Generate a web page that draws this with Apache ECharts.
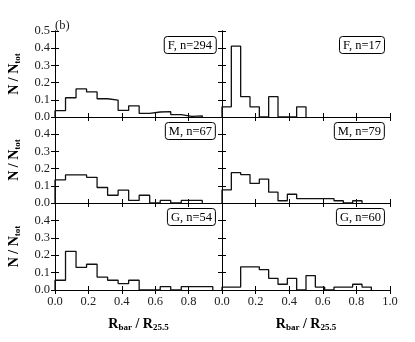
<!DOCTYPE html>
<html>
<head>
<meta charset="utf-8">
<script src="https://cdn.jsdelivr.net/npm/echarts@6/dist/echarts.min.js"></script>
<style>
  html, body { margin: 0; padding: 0; background: #fff; }
  #main { width: 415px; height: 342px; }
</style>
</head>
<body>
<div id="main"></div>
<script>
// bin widths (left column / right column)
const binLeft = 0.063;
const binRight = 1 / 18;

// N / N_tot per bin
const fLeft = [0.037, 0.112, 0.163, 0.146, 0.106, 0.098, 0.038, 0.065, 0.021, 0.029, 0.031, 0.014, 0.004, 0.007];
const fRight = [0.059, 0.412, 0.118, 0.059, 0, 0.118, 0, 0, 0.059];
const mLeft = [0.134, 0.164, 0.164, 0.149, 0.090, 0.045, 0.075, 0.015, 0.045, 0, 0.015, 0, 0.015, 0.015];
const mRight = [0.076, 0.177, 0.165, 0.114, 0.139, 0.063, 0.013, 0.051, 0.025, 0.025, 0.025, 0.025, 0.013, 0, 0.013];
const gLeft = [0.056, 0.222, 0.130, 0.148, 0.074, 0.056, 0.037, 0.056, 0, 0, 0.019, 0, 0.019, 0.019, 0.019];
const gRight = [0.017, 0.017, 0.133, 0.133, 0.117, 0.067, 0.033, 0.067, 0, 0.083, 0.017, 0, 0.017, 0.017, 0.033, 0.017];

const panelLabels = ["F, n=294", "F, n=17", "M, n=67", "M, n=79", "G, n=54", "G, n=60"];
const panelData = [fLeft, fRight, mLeft, mRight, gLeft, gRight];

const serif = "Liberation Serif";
const rowTop = [31, 117, 203];
const rowH = [86, 86, 87];

// outline of a histogram (step line)
const histLine = (vals, w) => {
  const pts = [[0, 0]];
  vals.forEach((v, i) => pts.push([i * w, v]));
  pts.push([vals.length * w, 0]);
  return pts;
};

const nameRich = {
  b: { fontFamily: serif, fontSize: 14, fontWeight: "bold", color: "#000", lineHeight: 16 },
  s: { fontFamily: serif, fontSize: 9, fontWeight: "bold", color: "#000", padding: [7, 0, 0, 0] },
};

const grids = [], xAxes = [], yAxes = [], series = [], titles = [];
const tickStyle = { show: true, inside: true, length: 4, lineStyle: { color: "#000", width: 1 } };
const lineStyle = { show: true, lineStyle: { color: "#000", width: 1 } };

for (let g = 0; g < 6; g++) {
  const row = Math.floor(g / 2);
  const col = g % 2;
  grids.push({
    left: col === 0 ? 55 : 222,
    width: col === 0 ? 167 : 168,
    top: rowTop[row],
    height: rowH[row],
  });
  const bottomRow = row === 2;
  xAxes.push({
    gridIndex: g, type: "value", min: 0, max: 1, interval: 0.2,
    axisLine: lineStyle, axisTick: tickStyle, splitLine: { show: false },
    axisLabel: {
      show: bottomRow, showMaxLabel: col === 1, margin: 5,
      fontFamily: serif, fontSize: 12.5, color: "#222",
      formatter: (v) => v.toFixed(1),
    },
    name: bottomRow ? "{b|R}{s|bar}{b| / R}{s|25.5}" : "",
    nameLocation: "middle", nameGap: 26,
    nameTextStyle: { rich: nameRich },
  });
  xAxes.push({
    gridIndex: g, type: "value", min: 0, max: 1, interval: 0.2, position: "top",
    axisLine: lineStyle, axisTick: tickStyle, splitLine: { show: false },
    axisLabel: { show: false },
  });
  yAxes.push({
    gridIndex: g, type: "value", min: 0, max: 0.5, interval: 0.1,
    axisLine: lineStyle, axisTick: tickStyle, splitLine: { show: false },
    axisLabel: {
      show: col === 0, showMaxLabel: row === 0, margin: 5,
      fontFamily: serif, fontSize: 12.5, color: "#222",
      formatter: (v) => v.toFixed(1),
    },
    name: col === 0 ? "{b|N / N}{s|tot}" : "",
    nameLocation: "middle", nameGap: 33, nameRotate: 90,
    nameTextStyle: { rich: nameRich },
  });
  yAxes.push({
    gridIndex: g, type: "value", min: 0, max: 0.5, interval: 0.1, position: "right",
    axisLine: lineStyle, axisTick: tickStyle, splitLine: { show: false },
    axisLabel: { show: false },
  });
  series.push({
    type: "line",
    xAxisIndex: 2 * g, yAxisIndex: 2 * g,
    step: "end", symbol: "none", animation: false,
    lineStyle: { color: "#111", width: 1.3 },
    data: histLine(panelData[g], col === 0 ? binLeft : binRight),
    z: 3,
  });
  titles.push({
    text: panelLabels[g],
    right: col === 0 ? 199 : 30,
    top: rowTop[row] + 5,
    padding: [3, 4, 2, 4],
    borderColor: "#000", borderWidth: 1, borderRadius: 3,
    backgroundColor: "#fff",
    textStyle: { fontFamily: serif, fontSize: 12.5, fontWeight: "normal", color: "#000" },
  });
}

const chart = echarts.init(document.getElementById("main"), null, { renderer: "canvas" });
chart.setOption({
  animation: false,
  backgroundColor: "#fff",
  title: titles,
  grid: grids,
  xAxis: xAxes,
  yAxis: yAxes,
  series: series,
  graphic: [{
    type: "text", left: 55, top: 19,
    style: { text: "(b)", font: "12.5px " + serif, fill: "#222" },
  }],
});
</script>
</body>
</html>
